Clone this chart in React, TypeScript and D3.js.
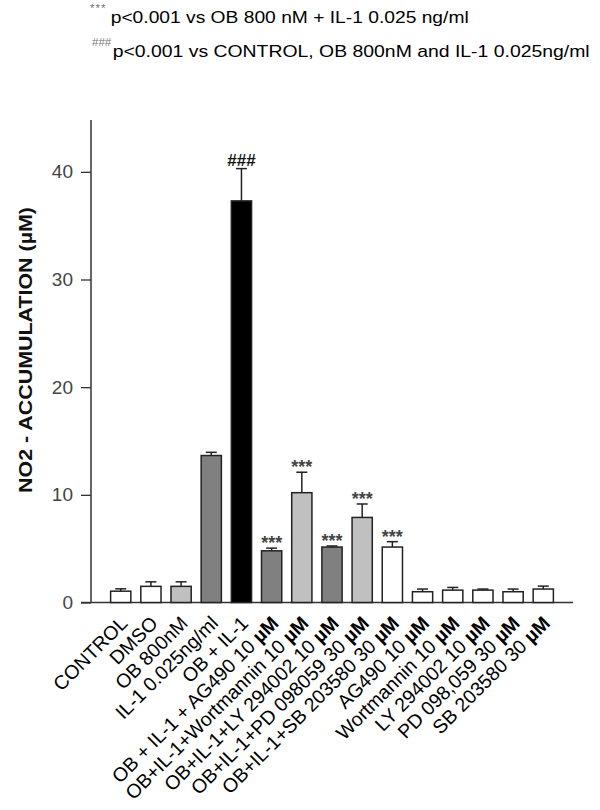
import React, { useEffect, useRef } from "react";
import * as d3 from "d3";

// treatment groups, left to right
const categories = [
  "CONTROL",
  "DMSO",
  "OB 800nM",
  "IL-1 0.025ng/ml",
  "OB + IL-1",
  "OB + IL-1 + AG490 10 µM",
  "OB+IL-1+Wortmannin 10 µM",
  "OB+IL-1+LY 294002 10 µM",
  "OB+IL-1+PD 098059 30 µM",
  "OB+IL-1+SB 203580 30 µM",
  "AG490 10 µM",
  "Wortmannin 10 µM",
  "LY 294002 10 µM",
  "PD 098,059 30 µM",
  "SB 203580 30 µM",
];
const means = [1.05, 1.5, 1.5, 13.65, 37.3, 4.8, 10.2, 5.15, 7.9, 5.15, 1.0, 1.15, 1.15, 1.0, 1.25];
const errors = [0.22, 0.42, 0.42, 0.3, 3.0, 0.25, 1.9, 0.1, 1.25, 0.5, 0.25, 0.25, 0.1, 0.25, 0.27];
const fills = [
  "#ffffff", "#ffffff", "#c0c0c0", "#808080", "#000000",
  "#808080", "#c0c0c0", "#808080", "#c0c0c0", "#ffffff",
  "#ffffff", "#ffffff", "#ffffff", "#ffffff", "#ffffff",
];
const marks = ["", "", "", "", "###", "***", "***", "***", "***", "***", "", "", "", "", ""];
const yTicks = [0, 10, 20, 30, 40];

const FONT = "Arial, 'Liberation Sans', sans-serif";

function Label({ text }: { text: string }) {
  // "µM" is set in bold in the original figure
  const i = text.indexOf("µM");
  if (i < 0) return <>{text}</>;
  return (
    <>
      {text.slice(0, i)}
      <tspan fontWeight="bold">µM</tspan>
    </>
  );
}

export default function App() {
  const yAxisRef = useRef<SVGGElement>(null);

  const x0 = 91;
  const x1 = 573;
  const yBase = 602.5;

  const x = d3.scaleBand<string>().domain(categories).range([x0, x1]).paddingInner(0.33).paddingOuter(0.65);
  const y = d3.scaleLinear().domain([0, 45]).range([yBase, 118]);

  useEffect(() => {
    const g = d3.select(yAxisRef.current);
    g.call(d3.axisLeft(y).tickValues(yTicks).tickSize(10).tickPadding(8).tickFormat(d3.format("d")) as any);
    g.select(".domain").remove();
    g.selectAll(".tick line").attr("stroke", "#333").attr("stroke-width", 1.3);
    g.selectAll(".tick text").attr("fill", "#444").attr("font-size", 19).attr("font-family", FONT);
  }, []);

  const bw = x.bandwidth();

  return (
    <svg width={600} height={810} style={{ position: "absolute", left: 0, top: 0 }} fontFamily={FONT}>
      <rect width={600} height={810} fill="#fff" />

      {/* footnotes */}
      <text x={90} y={12} fontSize={11.5} fill="#777" letterSpacing={1}>***</text>
      <text x={110.7} y={23} fontSize={17} fill="#000" textLength={358} lengthAdjust="spacingAndGlyphs">
        p&lt;0.001 vs OB 800 nM + IL-1 0.025 ng/ml
      </text>
      <text x={92} y={46} fontSize={11.5} fill="#777">###</text>
      <text x={112.7} y={57} fontSize={17} fill="#000" textLength={477} lengthAdjust="spacingAndGlyphs">
        p&lt;0.001 vs CONTROL, OB 800nM and IL-1 0.025ng/ml
      </text>

      {/* axes */}
      <g ref={yAxisRef} transform={`translate(${x0},0)`} />
      <line x1={x0} x2={x0} y1={120} y2={yBase} stroke="#333" strokeWidth={1.5} />
      <line x1={x0 - 10} x2={x1} y1={yBase} y2={yBase} stroke="#333" strokeWidth={1.5} />

      <text
        transform={`translate(32,350) rotate(-90)`}
        textAnchor="middle"
        fontSize={17.5}
        fontWeight="bold"
        fill="#111"
        textLength={286}
        lengthAdjust="spacingAndGlyphs"
      >
        NO2 - ACCUMULATION (µM)
      </text>

      {/* bars with error bars */}
      {categories.map((c, i) => {
        const bx = x(c)!;
        const cx = bx + bw / 2;
        const top = y(means[i]);
        const et = y(means[i] + errors[i]);
        const hash = marks[i] === "###";
        return (
          <g key={c}>
            <line x1={cx} x2={cx} y1={top} y2={et} stroke="#222" strokeWidth={1.5} />
            <line x1={cx - 5.5} x2={cx + 5.5} y1={et} y2={et} stroke="#222" strokeWidth={1.5} />
            <rect x={bx} y={top} width={bw} height={yBase - top} fill={fills[i]} stroke="#222" strokeWidth={1.5} />
            {marks[i] && (
              <text
                x={cx}
                y={hash ? et - 3 : et + 1}
                textAnchor="middle"
                fontSize={hash ? 17 : 18}
                fontWeight="bold"
                fill={hash ? "#111" : "#444"}
              >
                {marks[i]}
              </text>
            )}
          </g>
        );
      })}

      {/* category labels */}
      {categories.map((c) => {
        const cx = x(c)! + bw / 2;
        return (
          <text
            key={"l" + c}
            transform={`translate(${cx + 8},${yBase + 22}) rotate(-45)`}
            textAnchor="end"
            fontSize={19.5}
            fill="#000"
          >
            <Label text={c} />
          </text>
        );
      })}
    </svg>
  );
}
